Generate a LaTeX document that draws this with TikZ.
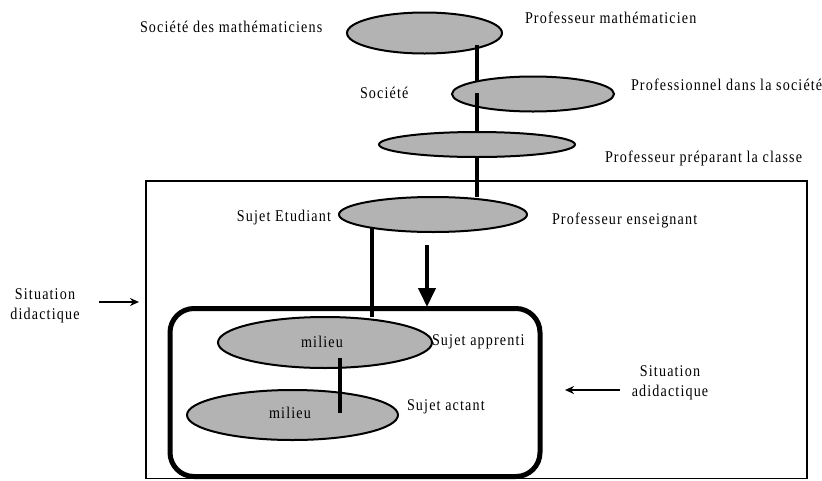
\documentclass[tikz,border=0pt]{standalone}
\usepackage{fontspec}
\setmainfont{Liberation Serif}[FakeStretch=0.86,LetterSpace=7]
\usetikzlibrary{shapes.geometric,arrows.meta}
\definecolor{ellgray}{RGB}{179,179,179}
\tikzset{
  ell/.style={ellipse, draw=black, line width=2pt, fill=ellgray, inner sep=0pt, outer sep=0pt},
  txt/.style={font=\fontsize{16.4}{20.5}\selectfont, inner sep=0pt, outer sep=0pt},
  stem/.style={line width=4pt, line cap=butt},
  thinarrow/.style={line width=2pt, -{Stealth[length=9pt,width=8pt]}},
}
\begin{document}
\begin{tikzpicture}[x=1pt,y=-1pt]
\useasboundingbox (0,0) rectangle (822,480);
% outer frame
\draw[line width=1.3pt] (146,181) rectangle (807,478.5);
% inner rounded frame
\draw[line width=5pt, rounded corners=24pt] (170,308.5) rectangle (540,476.5);

% top chain
\node[ell, minimum width=155pt, minimum height=41pt] (e1) at (424.5,33) {};
\coordinate (s1a) at (477,45); \coordinate (s1b) at (477,83);
\draw[stem] (s1a) -- (s1b);
\node[ell, minimum width=162pt, minimum height=35pt] (e2) at (533,94) {};
\coordinate (s2a) at (477,93); \coordinate (s2b) at (477,133);
\draw[stem] (s2a) -- (s2b);
\node[ell, minimum width=196pt, minimum height=25pt] (e3) at (477,144.5) {};
\coordinate (s3a) at (477,157); \coordinate (s3b) at (477,197);
\draw[stem] (s3a) -- (s3b);

% student line to milieu
\coordinate (s4a) at (372,225); \coordinate (s4b) at (372,317);
\draw[stem] (s4a) -- (s4b);
\node[ell, minimum width=188pt, minimum height=35pt] (e4) at (433,214.5) {};

% big arrow
\coordinate (a1a) at (427,245); \coordinate (a1b) at (427,307);
\draw[line width=4pt, -{Triangle[length=19pt,width=17pt]}] (a1a) -- (a1b);

% milieu ellipses
\node[ell, minimum width=214pt, minimum height=51pt] (m1) at (325,342.5) {};
\node[ell, minimum width=211pt, minimum height=50pt] (m2) at (292.5,415) {};
\coordinate (s5a) at (340,358); \coordinate (s5b) at (340,413);
\draw[stem] (s5a) -- (s5b);
\node[txt, anchor=base] (tm1) at (322,347) {milieu};
\node[txt, anchor=base] (tm2) at (290,418) {milieu};

% labels
\node[txt, anchor=base west] (t1) at (140,32) {Société des mathématiciens};
\node[txt, anchor=base west] (t2) at (525,23) {Professeur mathématicien};
\node[txt, anchor=base west] (t3) at (360,98) {Société};
\node[txt, anchor=base west] (t4) at (631,90) {Professionnel dans la société};
\node[txt, anchor=base west] (t5) at (605,162) {Professeur préparant la classe};
\node[txt, anchor=base east] (t6) at (331,221) {Sujet Etudiant};
\node[txt, anchor=base west] (t7) at (552,224) {Professeur enseignant};
\node[txt, anchor=base west] (t8) at (432,345) {Sujet apprenti};
\node[txt, anchor=base west] (t9) at (407,410) {Sujet actant};
\node[txt, align=center] (t10) at (45,306) {Situation\\didactique};
\node[txt, align=center] (t11) at (670,383) {Situation\\adidactique};

% side arrows
\coordinate (b1a) at (99,302); \coordinate (b1b) at (139,302);
\draw[thinarrow] (b1a) -- (b1b);
\coordinate (b2a) at (620,390); \coordinate (b2b) at (565,390);
\draw[thinarrow] (b2a) -- (b2b);
\end{tikzpicture}
\end{document}
